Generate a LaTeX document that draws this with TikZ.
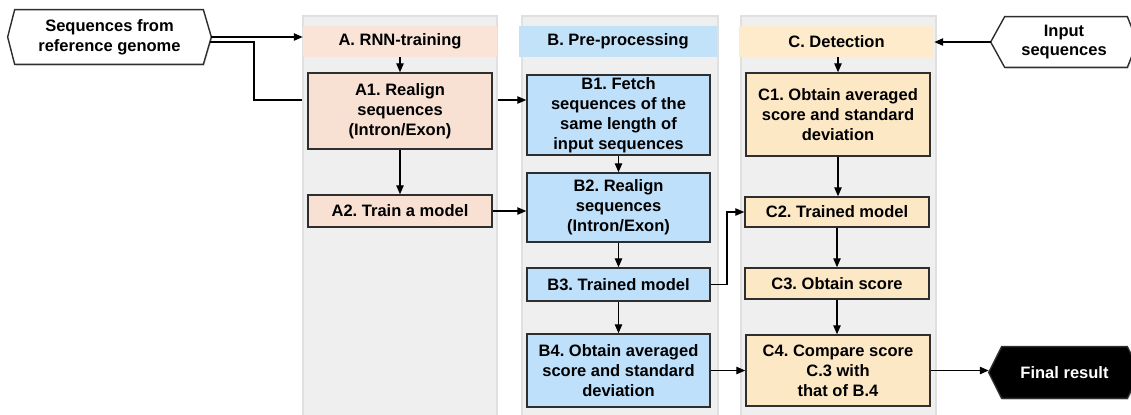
\documentclass[tikz,border=0pt]{standalone}
\usepackage{fontspec}
\setmainfont{Liberation Sans}
\usetikzlibrary{arrows.meta,calc,backgrounds,shadows}

\definecolor{laneGray}{HTML}{EFEFEF}
\definecolor{laneEdge}{HTML}{E0E0E0}
\definecolor{peach}{HTML}{F8E0D3}
\definecolor{peachHead}{HTML}{FAE4D8}
\definecolor{sky}{HTML}{BEE0FB}
\definecolor{skyHead}{HTML}{C2E2FA}
\definecolor{sand}{HTML}{FDE8C5}
\definecolor{sandHead}{HTML}{FDEBCC}
\definecolor{ink}{HTML}{2E2E2E}

\tikzset{
  every node/.style={font=\fontsize{9.4}{11.3}\selectfont\bfseries\frenchspacing,
    align=center, inner sep=0pt},
  % size given in drawing units (1 unit = 0.02cm)
  sz/.style 2 args={minimum width=#1*0.02cm, minimum height=#2*0.02cm},
  lane/.style={fill=laneGray, draw=laneEdge, line width=0.6pt},
  headband/.style={draw=none},
  box/.style={draw=ink, line width=0.9pt,
    drop shadow={opacity=0.25, shadow xshift=0.6pt, shadow yshift=-0.8pt}},
  boxA/.style={box, fill=peach},
  boxB/.style={box, fill=sky},
  boxC/.style={box, fill=sand},
  hexline/.style={draw=ink, line width=0.8pt,
    drop shadow={opacity=0.25, shadow xshift=0.6pt, shadow yshift=-0.8pt}},
  arr/.style={-{Triangle[length=5pt,width=4.2pt]}, line width=0.6pt},
  link/.style={line width=0.6pt}
}

\begin{document}
\begin{tikzpicture}[x=0.02cm, y=-0.02cm]
\useasboundingbox (0,0) rectangle (1131,414);

% swim lanes
\node[lane, sz={194}{404}] (laneA) at (400,218) {};
\node[lane, sz={196}{404}] (laneB) at (620,218) {};
\node[lane, sz={195}{404}] (laneC) at (838.5,218) {};

% lane headers
\node[headband, fill=peachHead, sz={194}{31}] (hA) at (400,41.5) {A. RNN-training};
\node[headband, fill=skyHead, sz={198}{31}] (hB) at (618,41.5) {B. Pre-processing};
\node[headband, fill=sandHead, sz={195}{31}] (hC) at (836.5,41.5) {C. Detection};

% A: RNN training
\node[boxA, sz={184}{76}] (A1) at (400,111) {A1. Realign\\sequences\\(Intron/Exon)};
\node[boxA, sz={184}{32}] (A2) at (400,211) {A2. Train a model};

% B: pre-processing
\node[boxB, sz={183}{80}] (B1) at (618.5,115) {B1. Fetch\\sequences of the\\same length of\\input sequences};
\node[boxB, sz={183}{69}] (B2) at (618.5,207.5) {B2. Realign\\sequences\\(Intron/Exon)};
\node[boxB, sz={183}{33}] (B3) at (618.5,284.5) {B3. Trained model};
\node[boxB, sz={183}{73}] (B4) at (618.5,370.5) {B4. Obtain averaged\\score and standard\\deviation};

% C: detection
\node[boxC, sz={184}{83}] (C1) at (838,114.5) {C1. Obtain averaged\\score and standard\\deviation};
\node[boxC, sz={184}{30}] (C2) at (837,212) {C2. Trained model};
\node[boxC, sz={184}{31}] (C3) at (837,283.5) {C3. Obtain score};
\node[boxC, sz={184}{71}] (C4) at (838,370.5) {C4. Compare score\\C.3 with\\that of B.4};

% terminals
\node[sz={203}{54}] (ref) at (109.5,37) {Sequences from\\reference genome};
\node[sz={146}{50}] (inp) at (1064,42) {Input\\sequences};
\node[sz={151}{51}, text=white] (fin) at (1064.5,372.5) {Final result};

\begin{pgfonlayer}{background}
\draw[hexline, fill=white] (ref.west) -- ($(ref.north west)+(7,0)$) -- ($(ref.north east)+(-8,0)$)
  -- (ref.east) -- ($(ref.south east)+(-8,0)$) -- ($(ref.south west)+(7,0)$) -- cycle;
\draw[hexline, fill=white] (inp.west) -- ($(inp.north west)+(14,0)$) -- ($(inp.north east)+(-10,0)$)
  -- (inp.east) -- ($(inp.south east)+(-10,0)$) -- ($(inp.south west)+(14,0)$) -- cycle;
\draw[hexline, fill=black] (fin.west) -- ($(fin.north west)+(13,0)$) -- ($(fin.north east)+(-13,0)$)
  -- (fin.east) -- ($(fin.south east)+(-13,0)$) -- ($(fin.south west)+(13,0)$) -- cycle;
\end{pgfonlayer}

% bend points of the elbow connectors
\coordinate (bendRef) at (254,100);
\coordinate (bendB3) at (727,212);

% connectors
\draw[arr] (ref.east) -- (ref.east -| hA.west);
\draw[link] ($(ref.east)+(-1,5)$) -| (bendRef) -- (bendRef -| laneA.west);
\draw[arr] (hA.south) -- (A1.north);
\draw[arr] (A1.south) -- (A2.north);
\draw[arr] (bendRef -| laneA.east) -- (bendRef -| B1.west);
\draw[arr] (A2.east) -- (A2.east -| B2.west);
\draw[arr] (B1.south) -- (B2.north);
\draw[arr] (B2.south) -- (B3.north);
\draw[arr] (B3.south) -- (B4.north);
\draw[arr] (B3.east) -| (bendB3) -- (C2.west);
\draw[arr] (B4.east) -- (B4.east -| C4.west);
\draw[arr] (inp.west) -- (inp.west -| hC.east);
\draw[arr] (hC.south -| C1.north) -- (C1.north);
\draw[arr] (C1.south) -- (C1.south |- C2.north);
\draw[arr] (C2.south) -- (C2.south |- C3.north);
\draw[arr] (C3.south) -- (C3.south |- C4.north);
\draw[arr] (C4.east) -- (C4.east -| fin.west);
\end{tikzpicture}
\end{document}
